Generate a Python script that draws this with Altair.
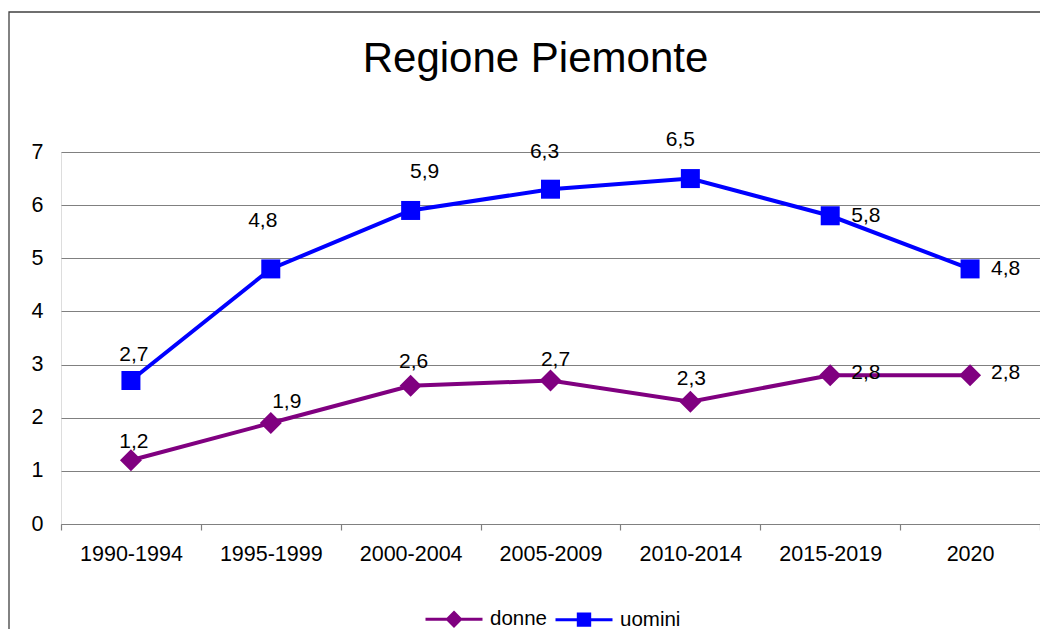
import altair as alt
import pandas as pd

periods = ["1990-1994", "1995-1999", "2000-2004", "2005-2009", "2010-2014", "2015-2019", "2020"]
donne = [1.2, 1.9, 2.6, 2.7, 2.3, 2.8, 2.8]
uomini = [2.7, 4.8, 5.9, 6.3, 6.5, 5.8, 4.8]
series_names = ["donne", "uomini"]
series_colors = ["#800080", "#0000FF"]
y_ticks = [0, 1, 2, 3, 4, 5, 6, 7]
title_text = "Regione Piemonte"

rows = []
for name, vals in zip(series_names, [donne, uomini]):
    for p, v in zip(periods, vals):
        rows.append({"period": p, "series": name, "value": v})
df = pd.DataFrame(rows)

FONT = "Liberation Sans"
AXIS_FS = 21.5
LABEL_FS = 21

x_enc = alt.X("period:N", sort=periods,
              scale=alt.Scale(paddingInner=0, paddingOuter=0),
              axis=alt.Axis(title=None, labelAngle=0, labelFontSize=AXIS_FS, labelFont=FONT,
                            labelColor="black", domainColor="#808080", domainWidth=1.2,
                            ticks=True, tickColor="#808080", tickSize=6, tickWidth=1.2,
                            tickBand="extent", labelPadding=13, grid=False))
y_enc = alt.Y("value:Q", scale=alt.Scale(domain=[0, 7], nice=False, zero=True),
              axis=alt.Axis(title=None, values=y_ticks, format="d", labelFontSize=AXIS_FS,
                            labelFont=FONT, labelColor="black", domain=False, ticks=False,
                            tickSize=0, labelPadding=18, grid=True, gridColor="#808080",
                            gridWidth=1.2))

legend_symbol_shape = ("datum.value === 'donne' ? 'M-1,0H1M0,-0.23L0.23,0L0,0.23L-0.23,0Z' : "
                       "'M-1,0H1M-0.2,-0.2H0.2V0.2H-0.2Z'")
legend_symbol_color = "datum.value === 'donne' ? '#800080' : '#0000FF'"

color_enc = alt.Color("series:N",
                      scale=alt.Scale(domain=series_names, range=series_colors),
                      legend=alt.Legend(title=None, orient="none", direction="horizontal",
                                        legendX=363, legendY=437,
                                        labelFontSize=20.5, labelFont=FONT, labelColor="black",
                                        symbolSize=3249, symbolStrokeWidth=3, labelOffset=6,
                                        columnPadding=1,
                                        symbolType={"expr": legend_symbol_shape},
                                        symbolFillColor={"expr": legend_symbol_color},
                                        symbolStrokeColor={"expr": legend_symbol_color},
                                        symbolOpacity=1))

base = alt.Chart(df)

frame = alt.Chart(alt.Data(values=[{"k": 1}])).mark_rect(
    fillOpacity=0, stroke="#404040", strokeWidth=1.3
).encode(x=alt.value(-52), x2=alt.value(1600), y=alt.value(-140), y2=alt.value(1200))

lines = base.mark_line(strokeWidth=4).encode(x=x_enc, y=y_enc, color=color_enc)


def markers(series, shape, size, color):
    return base.transform_filter(
        alt.FieldEqualPredicate(field="series", equal=series)
    ).mark_point(filled=True, opacity=1, shape=shape, size=size, color=color, strokeWidth=0).encode(
        x=alt.X("period:N", sort=periods), y=alt.Y("value:Q"))


points_d = markers("donne", "diamond", 484, series_colors[0])
points_u = markers("uomini", "square", 361, series_colors[1])


def labels(series, sel_periods, dx, dy, align="center"):
    return base.transform_filter(
        alt.FieldEqualPredicate(field="series", equal=series)
    ).transform_filter(
        alt.FieldOneOfPredicate(field="period", oneOf=sel_periods)
    ).transform_calculate(
        label="replace(format(datum.value, '.1f'), '.', ',')"
    ).mark_text(fontSize=LABEL_FS, font=FONT, color="black", dx=dx, dy=dy, align=align,
                baseline="middle").encode(
        x=alt.X("period:N", sort=periods), y=alt.Y("value:Q"), text="label:N")


text_layers = [
    labels("uomini", ["1990-1994"], 3, -26),
    labels("uomini", ["1995-1999"], -8, -48),
    labels("uomini", ["2000-2004"], 14, -38),
    labels("uomini", ["2005-2009"], -6, -37),
    labels("uomini", ["2010-2014"], -10, -39),
    labels("uomini", ["2015-2019", "2020"], 21, 0, "left"),
    labels("donne", ["1990-1994"], 3, -18),
    labels("donne", ["1995-1999"], 16, -21),
    labels("donne", ["2000-2004"], 3, -24),
    labels("donne", ["2005-2009"], 5, -21),
    labels("donne", ["2010-2014"], 1, -23),
    labels("donne", ["2015-2019", "2020"], 21, -2, "left"),
]

chart = alt.layer(frame, lines, points_d, points_u, *text_layers).properties(
    width=979, height=372,
    title=alt.Title(title_text, fontSize=42, font=FONT, fontWeight="normal", color="black",
                    anchor="middle", baseline="alphabetic", dx=-15, offset=0, dy=103),
    autosize=alt.AutoSizeParams(type="none"),
    padding={"left": 53, "top": 144, "right": 0, "bottom": 105},
).configure_view(stroke=None).configure(background="white")

chart.save("out.html", embed_options={"renderer": "svg", "actions": False})
